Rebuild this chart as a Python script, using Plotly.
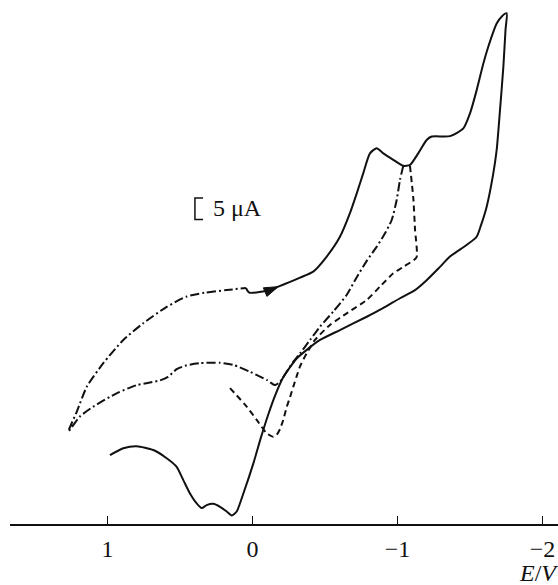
import plotly.graph_objects as go

# ---- data (E in V, I in µA, arbitrary current offset) ----
solid_E = [0.045, 0.022, -0.121, -0.178, -0.259, -0.328, -0.419, -0.512, -0.603, -0.672,
           -0.719, -0.764, -0.810, -0.857, -0.902, -0.971, -1.040, -1.086, -1.143, -1.201,
           -1.236, -1.362, -1.454, -1.500, -1.546, -1.592, -1.626, -1.684, -1.721, -1.753,
           -1.745, -1.730, -1.707, -1.684, -1.659, -1.615, -1.576, -1.546, -1.477, -1.362,
           -1.293, -1.201, -1.121, -1.017, -0.900, -0.788, -0.603, -0.466, -0.374, -0.305,
           -0.259, -0.210, -0.155, -0.107, -0.059, -0.006, 0.063, 0.109, 0.143, 0.178,
           0.224, 0.270, 0.316, 0.350, 0.385, 0.431, 0.477, 0.523, 0.592, 0.684,
           0.799, 0.891, 0.983]
solid_I = [54.9, 53.8, 54.4, 55.2, 56.3, 57.3, 58.7, 62.2, 66.8, 72.3,
           76.9, 81.6, 86.2, 87.4, 86.2, 84.7, 83.3, 83.5, 86.2, 89.3,
           90.1, 90.2, 92.0, 95.5, 100.9, 107.1, 111.0, 116.4, 118.1, 118.8,
           114.9, 106.3, 96.3, 87.0, 81.2, 73.8, 69.5, 66.8, 64.9, 62.2,
           59.8, 56.7, 54.4, 52.5, 50.2, 48.2, 45.1, 42.8, 40.5, 38.5,
           36.5, 34.0, 29.8, 25.3, 20.2, 14.1, 7.1, 2.9, 2.0, 2.9,
           4.0, 4.7, 4.4, 3.7, 4.8, 7.1, 10.2, 13.3, 15.3, 17.2,
           18.1, 17.6, 16.0]

dashdot_E = [-1.040, -1.017, -0.994, -0.960, -0.914, -0.857, -0.788, -0.719, -0.650, -0.557,
             -0.466, -0.397, -0.328, -0.281, -0.236, -0.190, -0.155, -0.098, 0.017, 0.132,
             0.224, 0.362, 0.454, 0.523, 0.583, 0.638, 0.707, 0.799, 0.937, 1.098,
             1.190, 1.270, 1.212, 1.143, 1.029, 0.891, 0.753, 0.592, 0.454, 0.328,
             0.178, 0.045]
dashdot_I = [83.3, 80.0, 75.3, 70.7, 67.6, 64.5, 61.2, 57.4, 53.3, 49.4,
             45.9, 42.8, 39.7, 37.7, 35.4, 33.1, 32.3, 33.5, 35.4, 37.0,
             37.5, 37.4, 36.9, 36.0, 34.2, 33.4, 32.9, 32.3, 30.4, 27.3,
             25.0, 21.5, 26.1, 31.9, 37.4, 42.8, 46.7, 50.5, 52.9, 53.8,
             54.4, 54.9]

dashed_E = [-1.086, -1.109, -1.121, -1.131, -1.040, -0.971, -0.879, -0.788, -0.650, -0.534,
            -0.431, -0.374, -0.328, -0.305, -0.281, -0.259, -0.236, -0.212, -0.190, -0.166,
            -0.143, -0.098, -0.029, 0.040, 0.155]
dashed_I = [83.3, 75.8, 68.4, 62.0, 59.8, 58.3, 55.2, 52.1, 49.0, 46.3,
            42.8, 39.7, 36.7, 34.4, 31.9, 29.5, 27.2, 24.2, 22.1, 20.7,
            20.3, 21.1, 24.2, 27.3, 31.6]

tick_vals = [1, 0, -1, -2]
tick_text = ["1", "0", "\u22121", "\u22122"]

scale_bar_uA = 5
scale_bar_label = "5 \u03bcA"
x_title = "<i>E</i>/<i>V</i>"

INK = "#111111"
SERIF = "Liberation Serif"

fig = go.Figure()

fig.add_trace(go.Scatter(x=dashdot_E, y=dashdot_I, mode="lines",
                         line=dict(color=INK, width=2, dash="9px,3px,2px,3px", shape="spline", smoothing=0.6),
                         hoverinfo="skip", showlegend=False))
fig.add_trace(go.Scatter(x=dashed_E, y=dashed_I, mode="lines",
                         line=dict(color=INK, width=2, dash="6px,4px", shape="spline", smoothing=0.5),
                         hoverinfo="skip", showlegend=False))
fig.add_trace(go.Scatter(x=solid_E, y=solid_I, mode="lines",
                         line=dict(color=INK, width=2, shape="spline", smoothing=0.6),
                         hoverinfo="skip", showlegend=False))
# arrow head showing scan direction (on the solid curve)
fig.add_trace(go.Scatter(x=solid_E[2:4], y=solid_I[2:4], mode="markers",
                         marker=dict(symbol="arrow", angleref="previous", size=[0, 15],
                                     color=INK, opacity=1, line=dict(width=1, color=INK)),
                         hoverinfo="skip", showlegend=False))

# scale bar bracket
bx_right = 0.397
bx_left = 0.341
by_bottom = 70.8
by_top = by_bottom + scale_bar_uA
fig.add_shape(type="path", xref="x", yref="y",
              path=f"M {bx_left},{by_top} L {bx_right},{by_top} L {bx_right},{by_bottom} L {bx_left},{by_bottom}",
              line=dict(color=INK, width=1.5))
fig.add_annotation(x=0.288, y=(by_top + by_bottom) / 2 + 0.3, xref="x", yref="y",
                   text=scale_bar_label, showarrow=False, xanchor="left", yanchor="middle",
                   font=dict(family=SERIF, size=24, color=INK))
fig.add_annotation(x=0.925, y=-0.094, xref="paper", yref="paper",
                   text=x_title, showarrow=False, xanchor="left", yanchor="middle",
                   font=dict(family=SERIF, size=24, color=INK))

fig.update_layout(
    width=558, height=585,
    margin=dict(l=10, r=0, t=0, b=61),
    paper_bgcolor="white", plot_bgcolor="white",
    font=dict(family=SERIF),
    xaxis=dict(range=[1.6724, -2.1069], showgrid=False, zeroline=False,
               showline=True, linecolor=INK, linewidth=1.5,
               ticks="inside", ticklen=8, tickwidth=1.5, tickcolor=INK,
               tickvals=tick_vals, ticktext=tick_text,
               tickfont=dict(family=SERIF, size=24, color=INK),
               ticklabelstandoff=3),
    yaxis=dict(range=[0, 121.86], visible=False),
)

fig.write_html("out.html", config={"displayModeBar": False, "staticPlot": True},
               post_script="document.body.style.margin='0';document.body.style.overflow='hidden';")
